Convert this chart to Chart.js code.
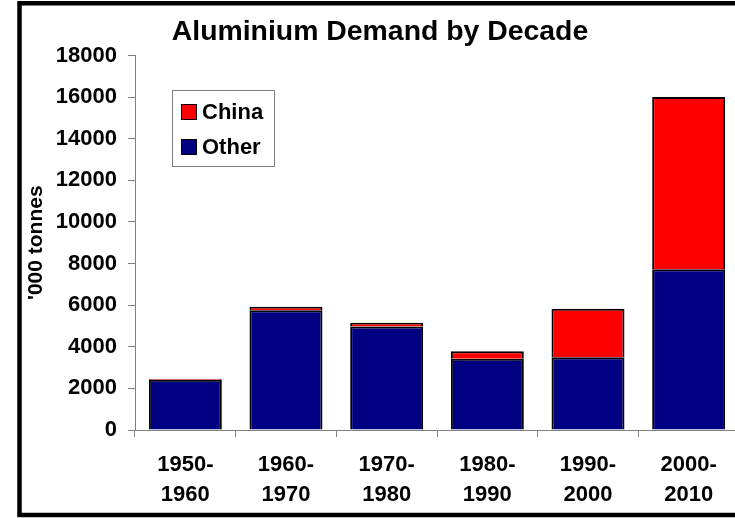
<!DOCTYPE html>
<html>
<head>
<meta charset="utf-8">
<script src="https://cdn.jsdelivr.net/npm/chart.js@4/dist/chart.umd.min.js"></script>
<style>
  html, body { margin: 0; padding: 0; background: #fff; overflow: hidden; }
  #wrap { position: relative; width: 742px; height: 518px; }
</style>
</head>
<body>
<div id="wrap"><canvas id="c" width="742" height="518"></canvas></div>
<script>
// Decades and demand ('000 tonnes)
const decades = [["1950-", "1960"], ["1960-", "1970"], ["1970-", "1980"], ["1980-", "1990"], ["1990-", "2000"], ["2000-", "2010"]];
const otherDemand = [2410, 5750, 4980, 3430, 3500, 7730];
const chinaDemand = [50, 170, 170, 350, 2330, 8270];
const yTicks = [0, 2000, 4000, 6000, 8000, 10000, 12000, 14000, 16000, 18000];

const FONT = "'Liberation Sans', Arial, sans-serif";
const AXIS_GREY = '#808080';

// White page, black outer frame
const framePlugin = {
  id: 'frame',
  beforeDraw(chart) {
    const ctx = chart.ctx;
    ctx.save();
    ctx.fillStyle = '#fff';
    ctx.fillRect(0, 0, chart.width, chart.height);
    ctx.restore();
  },
  afterDraw(chart) {
    const ctx = chart.ctx;
    ctx.save();
    ctx.strokeStyle = '#000';
    ctx.lineWidth = 4.5;
    ctx.strokeRect(19.5, 3.25, 740, 511.75);
    ctx.restore();
  }
};

// Boxed legend inside the plot area, China listed above Other
const boxLegend = {
  id: 'boxLegend',
  afterDatasetsDraw(chart) {
    const ctx = chart.ctx;
    const ds = chart.data.datasets;
    const order = [1, 0];
    ctx.save();
    ctx.fillStyle = '#fff';
    ctx.fillRect(172.5, 90.5, 102, 76);
    ctx.strokeStyle = AXIS_GREY;
    ctx.lineWidth = 1;
    ctx.strokeRect(172.5, 90.5, 102, 76);
    ctx.font = 'bold 22px ' + FONT;
    ctx.textBaseline = 'middle';
    ctx.textAlign = 'left';
    order.forEach((di, i) => {
      const cy = 112 + i * 35;
      ctx.fillStyle = ds[di].backgroundColor;
      ctx.fillRect(181, cy - 8, 15, 15);
      ctx.strokeStyle = '#000';
      ctx.strokeRect(181.5, cy - 7.5, 15, 15);
      ctx.fillStyle = '#000';
      ctx.fillText(ds[di].label, 202, cy + 1);
    });
    ctx.restore();
  }
};

new Chart(document.getElementById('c'), {
  type: 'bar',
  data: {
    labels: decades,
    datasets: [
      { label: 'Other', data: otherDemand, backgroundColor: '#000080', borderColor: '#000', borderWidth: 2 },
      { label: 'China', data: chinaDemand, backgroundColor: '#ff0000', borderColor: '#000', borderWidth: 2 }
    ]
  },
  options: {
    responsive: false,
    animation: false,
    devicePixelRatio: 1,
    layout: { padding: { left: 21, right: 3, top: 0, bottom: 8 } },
    datasets: { bar: { categoryPercentage: 1, barPercentage: 0.725 } },
    plugins: {
      legend: { display: false },
      tooltip: { enabled: false },
      title: {
        display: true,
        text: 'Aluminium Demand by Decade',
        color: '#000',
        font: { family: FONT, size: 28.4, weight: 'bold', lineHeight: 1.2 },
        padding: { top: 15, bottom: 6.4 }
      }
    },
    scales: {
      x: {
        stacked: true,
        afterFit(scale) { scale.height = 80; },
        grid: { display: true, drawOnChartArea: false, drawTicks: true, tickLength: 7, color: AXIS_GREY, offset: true },
        border: { display: true, color: AXIS_GREY, width: 1 },
        ticks: { color: '#000', padding: 13, maxRotation: 0, font: { family: FONT, size: 22, weight: 'bold', lineHeight: 30 / 22 } }
      },
      y: {
        stacked: true,
        min: 0,
        max: 18000,
        afterBuildTicks(scale) { scale.ticks = yTicks.map(v => ({ value: v })); },
        afterFit(scale) { scale.width = 114; },
        grid: { display: true, drawOnChartArea: false, drawTicks: true, tickLength: 7, color: AXIS_GREY },
        border: { display: true, color: AXIS_GREY, width: 1 },
        ticks: {
          color: '#000',
          padding: 11,
          font: { family: FONT, size: 22, weight: 'bold' },
          callback: (v) => String(v)
        },
        title: {
          display: true,
          text: "'000 tonnes",
          color: '#000',
          padding: { top: 2.4, bottom: 0 },
          font: { family: FONT, size: 21, weight: 'bold', lineHeight: 1.2 }
        }
      }
    }
  },
  plugins: [framePlugin, boxLegend]
});
</script>
</body>
</html>
